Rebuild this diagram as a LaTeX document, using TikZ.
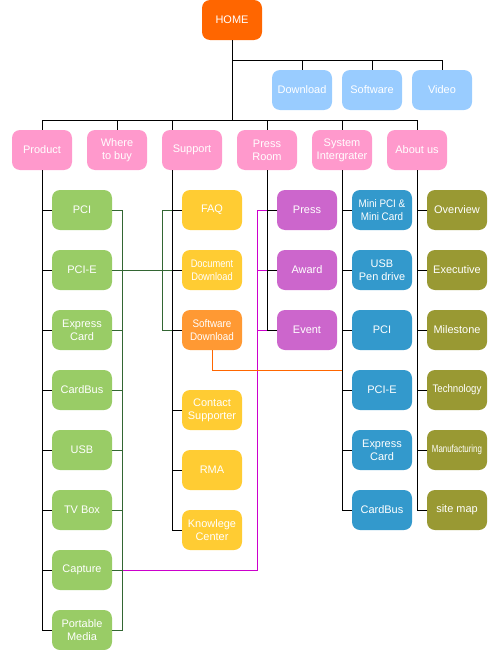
\documentclass[tikz,border=0pt]{standalone}
\usepackage{fontspec}
\setmainfont{Liberation Sans}
\usetikzlibrary{positioning}
\definecolor{homeorange}{HTML}{FF6600}
\definecolor{skyblue}{HTML}{99CCFF}
\definecolor{menupink}{HTML}{FF99CC}
\definecolor{leafgreen}{HTML}{99CC66}
\definecolor{sunyellow}{HTML}{FFCC33}
\definecolor{softorange}{HTML}{FF9933}
\definecolor{orchid}{HTML}{CC66CC}
\definecolor{oceanblue}{HTML}{3399CC}
\definecolor{olivegreen}{HTML}{999933}
\definecolor{linegreen}{HTML}{336633}
\definecolor{linemagenta}{HTML}{CC00CC}
\tikzstyle{page} = [rectangle, rounded corners=0.2cm, minimum width=1.5cm, minimum height=1cm, inner sep=0pt, text=white, align=center, font=\fontsize{7.8}{9}\selectfont]
\tikzstyle{homepage} = [page, fill=homeorange]
\tikzstyle{mediapage} = [page, fill=skyblue]
\tikzstyle{menupage} = [page, fill=menupink]
\tikzstyle{productpage} = [page, fill=leafgreen]
\tikzstyle{supportpage} = [page, fill=sunyellow]
\tikzstyle{presspage} = [page, fill=orchid]
\tikzstyle{systempage} = [page, fill=oceanblue]
\tikzstyle{aboutpage} = [page, fill=olivegreen]
\tikzstyle{link} = [draw, line width=0.7pt]
\tikzstyle{glink} = [draw=linegreen, line width=0.7pt]
\tikzstyle{mlink} = [draw=linemagenta, line width=0.7pt]
\tikzstyle{olink} = [draw=homeorange, line width=0.7pt]

\begin{document}
\begin{tikzpicture}[node distance=1.5cm]
\useasboundingbox (0,0) rectangle (12.5,-16.25);

\node [homepage] (home) at (5.8,-0.5) {HOME};
\node [mediapage, below of=home, node distance=1.75cm, xshift=1.75cm] (download) {Download};
\node [mediapage, right of=download, node distance=1.75cm] (software) {Software};
\node [mediapage, right of=software, node distance=1.75cm] (video) {Video};

\node [menupage, below of=home, node distance=3.25cm, xshift=-4.75cm] (product) {Product};
\node [menupage, right of=product, node distance=1.875cm] (wheretobuy) {Where\\to buy};
\node [menupage, right of=wheretobuy, node distance=1.875cm] (support) {Support};
\node [menupage, right of=support, node distance=1.875cm] (pressroom) {Press\\Room};
\node [menupage, right of=pressroom, node distance=1.875cm] (integrator) {System\\Intergrater};
\node [menupage, right of=integrator, node distance=1.875cm] (aboutus) {About us};

\node [productpage, below of=product, xshift=1cm] (pci) {PCI};
\node [productpage, below of=pci] (pcie) {PCI-E};
\node [productpage, below of=pcie] (ecard) {Express\\Card};
\node [productpage, below of=ecard] (cardbus) {CardBus};
\node [productpage, below of=cardbus] (usb) {USB};
\node [productpage, below of=usb] (tvbox) {TV Box};
\node [productpage, below of=tvbox] (capture) {Capture};
\node [productpage, below of=capture] (pmedia) {Portable\\Media};

\node [supportpage, below of=support, xshift=0.5cm] (faq) {FAQ};
\node [supportpage, below of=faq] (docdl) {\scalebox{0.85}[1]{Document}\\\scalebox{0.85}[1]{Download}};
\node [page, fill=softorange, below of=docdl] (swdl) {\scalebox{0.9}[1]{Software}\\\scalebox{0.9}[1]{Download}};
\node [supportpage, below of=swdl, node distance=2cm] (consup) {Contact\\Supporter};
\node [supportpage, below of=consup] (rma) {RMA};
\node [supportpage, below of=rma] (kcenter) {Knowlege\\Center};

\node [presspage, below of=pressroom, xshift=1cm] (press) {Press};
\node [presspage, below of=press] (award) {Award};
\node [presspage, below of=award] (event) {Event};

\node [systempage, below of=integrator, xshift=1cm] (minipci) {\scalebox{0.9}[1]{Mini PCI \&}\\\scalebox{0.9}[1]{Mini Card}};
\node [systempage, below of=minipci] (usbdrive) {USB\\Pen drive};
\node [systempage, below of=usbdrive] (spci) {PCI};
\node [systempage, below of=spci] (spcie) {PCI-E};
\node [systempage, below of=spcie] (secard) {Express\\Card};
\node [systempage, below of=secard] (scardbus) {CardBus};

\node [aboutpage, below of=aboutus, xshift=1cm] (overview) {Overview};
\node [aboutpage, below of=overview] (executive) {Executive};
\node [aboutpage, below of=executive] (milestone) {Milestone};
\node [aboutpage, below of=milestone] (technology) {\scalebox{0.88}[1]{Technology}};
\node [aboutpage, below of=technology] (manufacturing) {\scalebox{0.72}[0.95]{Manufacturing}};
\node [aboutpage, below of=manufacturing] (sitemap) {site map};

\coordinate [above of=software, node distance=0.75cm] (mediabus);
\coordinate [above of=wheretobuy, node distance=0.75cm] (menubus);
\coordinate [left of=faq, node distance=1cm] (supporttrunk);
\coordinate [left of=faq, node distance=1.25cm] (faqbus);
\coordinate [right of=pci, node distance=1cm] (greenbus);
\coordinate [left of=press, node distance=1.25cm] (capturebus);
\coordinate [below of=swdl, node distance=1cm] (swbus);

% colored cross links
\draw [mlink] (capture.east) -| (capturebus) -- (press.west);
\draw [mlink] (capturebus |- award) -- (award.west);
\draw [mlink] (capturebus |- event) -- (event.west);
\draw [olink] (swdl.south) -- (swbus) -- (swbus -| integrator);
\draw [glink] (pci.east) -- (greenbus) |- (pmedia.east);
\draw [glink] (pcie.east) -- (docdl.west);
\draw [glink] (ecard.east) -- (ecard.east -| greenbus);
\draw [glink] (cardbus.east) -- (cardbus.east -| greenbus);
\draw [glink] (usb.east) -- (usb.east -| greenbus);
\draw [glink] (tvbox.east) -- (tvbox.east -| greenbus);
\draw [glink] (capture.east) -- (capture.east -| greenbus);
\draw [glink] (faq.west) -- (faqbus) |- (swdl.west);

% site tree
\draw [link] (home.south) -- (home.south |- menubus);
\draw [link] (home.south |- mediabus) -| (video.north);
\draw [link] (mediabus -| download) -- (download.north);
\draw [link] (mediabus -| software) -- (software.north);
\draw [link] (menubus -| product) -| (aboutus.north);
\draw [link] (menubus -| product) -- (product.north);
\draw [link] (menubus -| wheretobuy) -- (wheretobuy.north);
\draw [link] (menubus -| supporttrunk) -- (supporttrunk |- support.north);
\draw [link] (menubus -| pressroom) -- (pressroom.north);
\draw [link] (menubus -| integrator) -- (integrator.north);

\draw [link] (product.south) |- (pmedia.west);
\draw [link] (product.south |- pci) -- (pci.west);
\draw [link] (product.south |- pcie) -- (pcie.west);
\draw [link] (product.south |- ecard) -- (ecard.west);
\draw [link] (product.south |- cardbus) -- (cardbus.west);
\draw [link] (product.south |- usb) -- (usb.west);
\draw [link] (product.south |- tvbox) -- (tvbox.west);
\draw [link] (product.south |- capture) -- (capture.west);

\draw [link] (supporttrunk |- support.south) |- (kcenter.west);
\draw [link] (supporttrunk) -- (faq.west);
\draw [link] (supporttrunk |- docdl) -- (docdl.west);
\draw [link] (supporttrunk |- swdl) -- (swdl.west);
\draw [link] (supporttrunk |- consup) -- (consup.west);
\draw [link] (supporttrunk |- rma) -- (rma.west);

\draw [link] (pressroom.south) |- (event.west);
\draw [link] (pressroom.south |- press) -- (press.west);
\draw [link] (pressroom.south |- award) -- (award.west);

\draw [link] (integrator.south) |- (scardbus.west);
\draw [link] (integrator.south |- minipci) -- (minipci.west);
\draw [link] (integrator.south |- usbdrive) -- (usbdrive.west);
\draw [link] (integrator.south |- spci) -- (spci.west);
\draw [link] (integrator.south |- spcie) -- (spcie.west);
\draw [link] (integrator.south |- secard) -- (secard.west);

\draw [link] (aboutus.south) |- (sitemap.west);
\draw [link] (aboutus.south |- overview) -- (overview.west);
\draw [link] (aboutus.south |- executive) -- (executive.west);
\draw [link] (aboutus.south |- milestone) -- (milestone.west);
\draw [link] (aboutus.south |- technology) -- (technology.west);
\draw [link] (aboutus.south |- manufacturing) -- (manufacturing.west);
\end{tikzpicture}
\end{document}
